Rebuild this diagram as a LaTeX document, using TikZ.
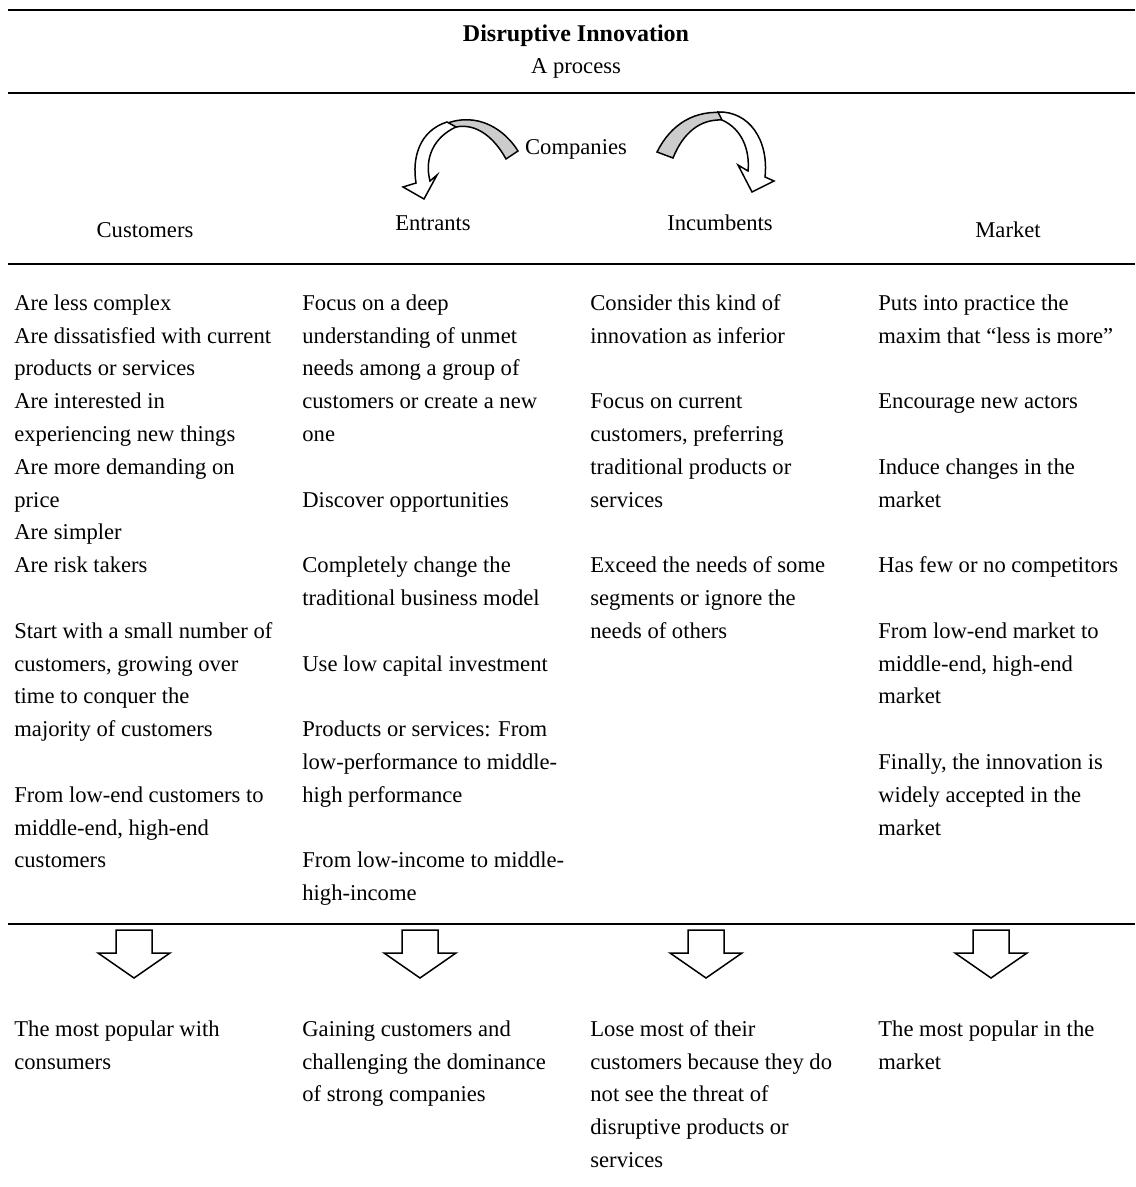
\documentclass[tikz,border=0pt]{standalone}
\usepackage{fontspec}
\setmainfont{Liberation Serif}
\definecolor{ribbongray}{RGB}{204,204,204}
\newcommand{\skipln}{16.4pt}
\tikzset{
  rule/.style={line width=1pt},
  cell/.style={anchor=north west, align=left, inner sep=0pt,
               font=\fontsize{11.3}{16.4}\selectfont},
  colhead/.style={anchor=base, inner sep=0pt,
                  font=\fontsize{11.3}{16.4}\selectfont},
  blockarrow/.style={draw, line width=0.75pt, line join=miter, fill=white},
}
\begin{document}
\begin{tikzpicture}[x=0.5pt, y=-0.5pt]
    \useasboundingbox (0,0) rectangle (1135,1187);

    % Heading
    \path (576,42) node [colhead, font=\fontsize{12}{16.4}\selectfont\bfseries]
          (title) {Disruptive Innovation};
    \path (576,74) node [colhead] (subtitle) {A process};

    % Rules
    \foreach \y in {10, 93, 264, 924} {
      \draw [rule] (8,\y) -- (1135,\y);
    }

    % Companies and the two curved arrows
    \path (576,155) node [colhead] (comp) {Companies};
    \filldraw [blockarrow, fill=ribbongray]
          (445,124) .. controls (478,111) and (505,130) .. (518,151)
          -- (506,159) .. controls (494,137) and (476,123) .. (456,127) -- cycle;
    \filldraw [blockarrow]
          (447,122) .. controls (419,131) and (412,158) .. (416,183)
          -- (403,187) -- (424,199) -- (437,175) -- (430,181)
          .. controls (424,158) and (434,137) .. (456,127) -- cycle;
    \filldraw [blockarrow, fill=ribbongray]
          (657,152) .. controls (671,124) and (695,109) .. (727,113)
          -- (722,120) .. controls (700,119) and (683,133) .. (673,158) -- cycle;
    \filldraw [blockarrow]
          (718,112) .. controls (749,111) and (769,140) .. (765,177)
          -- (774,181) -- (752,192) -- (738,165) -- (748,171)
          .. controls (750,150) and (742,129) .. (722,120) -- cycle;

    % Column heads
    \path (145,238) node [colhead] (cust) {Customers};
    \path (433,231) node [colhead] (entr) {Entrants};
    \path (720,231) node [colhead] (incu) {Incumbents};
    \path (1008,238) node [colhead] (mark) {Market};

    % Column bodies
    \path (14,287) node [cell] (custbody) {\strut Are less complex\\
      Are dissatisfied with current\\
      products or services\\
      Are interested in\\
      experiencing new things\\
      Are more demanding on\\
      price\\
      Are simpler\\
      Are risk takers\\[\skipln]
      Start with a small number of\\
      customers, growing over\\
      time to conquer the\\
      majority of customers\\[\skipln]
      From low-end customers to\\
      middle-end, high-end\\
      customers};
    \path (302,287) node [cell] (entrbody) {\strut Focus on a deep\\
      understanding of unmet\\
      needs among a group of\\
      customers or create a new\\
      one\\[\skipln]
      Discover opportunities\\[\skipln]
      Completely change the\\
      traditional business model\\[\skipln]
      Use low capital investment\\[\skipln]
      Products or services: From\\
      low-performance to middle-\\
      high performance\\[\skipln]
      From low-income to middle-\\
      high-income};
    \path (590,287) node [cell] (incubody) {\strut Consider this kind of\\
      innovation as inferior\\[\skipln]
      Focus on current\\
      customers, preferring\\
      traditional products or\\
      services\\[\skipln]
      Exceed the needs of some\\
      segments or ignore the\\
      needs of others};
    \path (878,287) node [cell] (markbody) {\strut Puts into practice the\\
      maxim that “less is more”\\[\skipln]
      Encourage new actors\\[\skipln]
      Induce changes in the\\
      market\\[\skipln]
      Has few or no competitors\\[\skipln]
      From low-end market to\\
      middle-end, high-end\\
      market\\[\skipln]
      Finally, the innovation is\\
      widely accepted in the\\
      market};

    % Down arrows
    \foreach \cx in {134, 420, 706, 991} {
      \draw [blockarrow] ({\cx-18},930) -- ({\cx+18},930) -- ({\cx+18},953)
            -- ({\cx+36},953) -- (\cx,978) -- ({\cx-36},953) -- ({\cx-18},953)
            -- cycle;
    }

    % Outcomes
    \path (14,1013) node [cell] (custout) {\strut The most popular with\\
      consumers};
    \path (302,1013) node [cell] (entrout) {\strut Gaining customers and\\
      challenging the dominance\\
      of strong companies};
    \path (590,1013) node [cell] (incuout) {\strut Lose most of their\\
      customers because they do\\
      not see the threat of\\
      disruptive products or\\
      services};
    \path (878,1013) node [cell] (markout) {\strut The most popular in the\\
      market};
\end{tikzpicture}
\end{document}
